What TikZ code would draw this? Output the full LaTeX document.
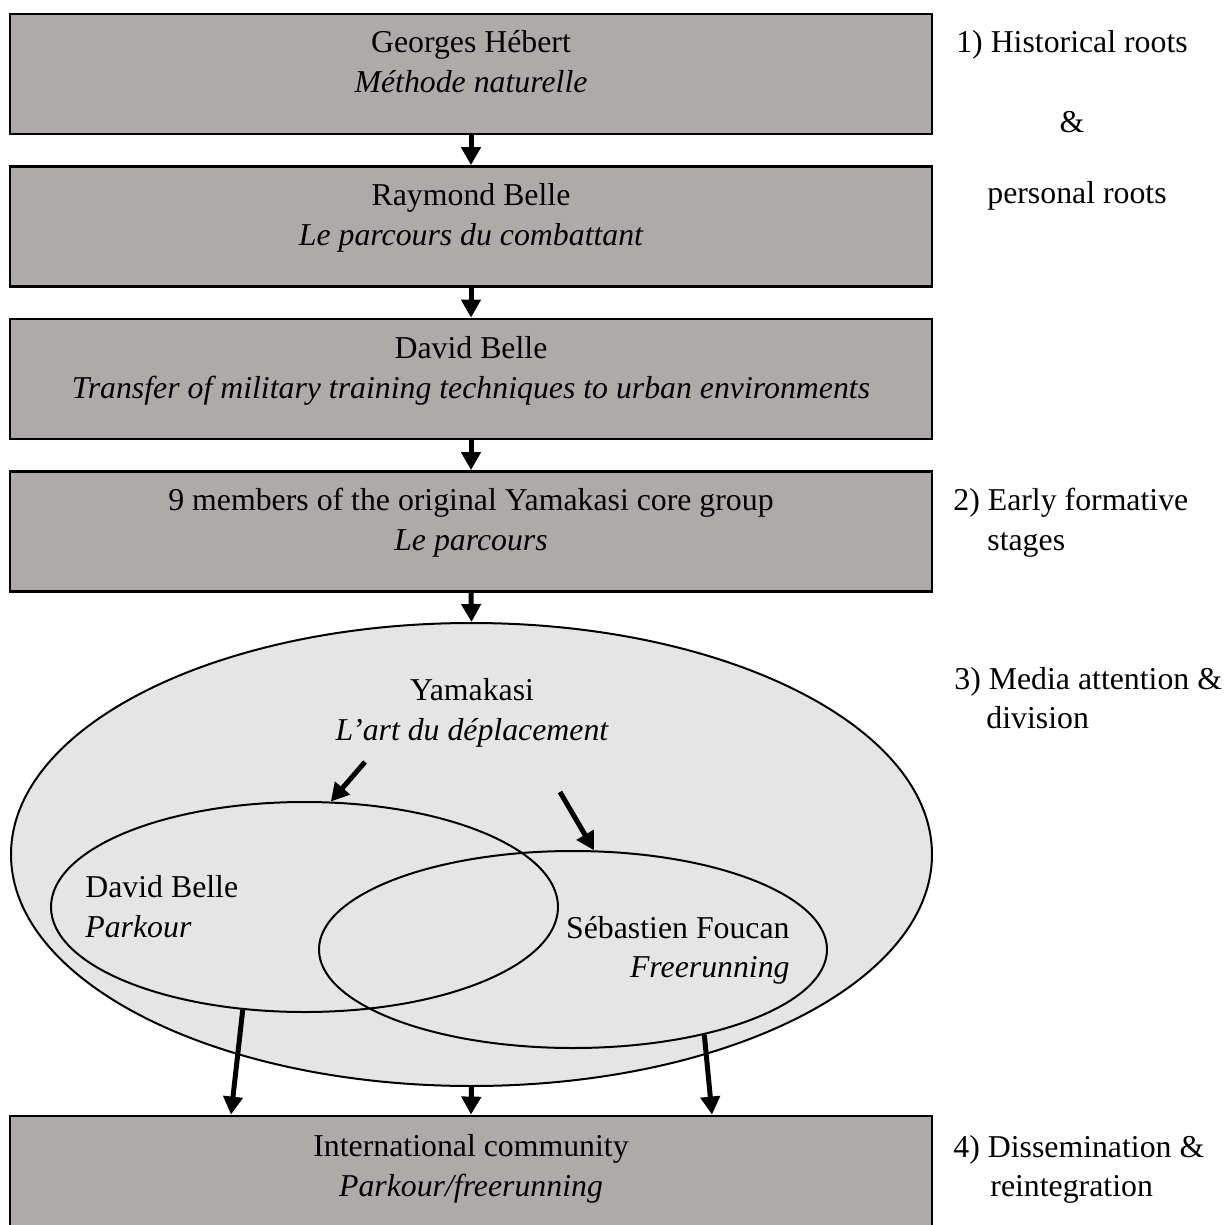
\documentclass[tikz,border=0pt]{standalone}
\usepackage{fontspec}
\setmainfont{Liberation Serif}
\usetikzlibrary{shapes.geometric,arrows.meta}
\definecolor{boxgray}{RGB}{174,170,169}
\definecolor{ellgray}{RGB}{229,229,229}
\begin{document}
\begin{tikzpicture}[x=0.5pt,y=-0.5pt,
  box/.style={draw=black, line width=1.4pt, fill=boxgray, rectangle,
    minimum width=461pt, minimum height=60pt, inner sep=0pt},
  bigell/.style={draw=black, line width=1pt, fill=ellgray, ellipse, inner sep=0pt},
  subell/.style={draw=black, line width=1pt, ellipse, inner sep=0pt},
  txt/.style={inner sep=0pt, font={\fontsize{15.9pt}{20pt}\selectfont}},
  arr/.style={line width=2.5pt, -{Triangle[width=9.5pt,length=9pt]}},
]
\useasboundingbox (0,0) rectangle (1226,1225);
\clip (0,0) rectangle (1226,1225);

% boxes
\node[box] (b1) at (471,74) {};
\node[box] (b2) at (471,226.5) {};
\node[box] (b3) at (471,379) {};
\node[box] (b4) at (471,531.5) {};
\node[box] (b5) at (471,1176) {};

% ellipses
\node[bigell, minimum width=460.5pt, minimum height=231.5pt] (big) at (471.5,854.5) {};
\node[subell, minimum width=253.5pt, minimum height=105pt] (e1) at (304.5,907) {};
\node[subell, minimum width=254pt, minimum height=98.5pt] (e2) at (573,949.5) {};

% box texts
\node[txt, anchor=base] (t1a) at (471,53) {Georges Hébert};
\node[txt, anchor=base] (t1b) at (471,93) {\itshape Méthode naturelle};
\node[txt, anchor=base] (t2a) at (471,205.5) {Raymond Belle};
\node[txt, anchor=base] (t2b) at (471,245.5) {\itshape Le parcours du combattant};
\node[txt, anchor=base] (t3a) at (471,358) {David Belle};
\node[txt, anchor=base] (t3b) at (471,398) {\itshape Transfer of military training techniques to urban environments};
\node[txt, anchor=base] (t4a) at (471,510) {9 members of the original Yamakasi core group};
\node[txt, anchor=base] (t4b) at (471,550) {\itshape Le parcours};
\node[txt, anchor=base] (t5a) at (471,1156) {International community};
\node[txt, anchor=base] (t5b) at (471,1196) {\itshape Parkour/freerunning};

% ellipse texts
\node[txt, anchor=base] (ya) at (472,700) {Yamakasi};
\node[txt, anchor=base] (yb) at (472,740) {\itshape L’art du déplacement};
\node[txt, anchor=base west] (da) at (85,897) {David Belle};
\node[txt, anchor=base west] (db) at (85,937) {\itshape Parkour};
\node[txt, anchor=base east] (sa) at (790,938) {Sébastien Foucan};
\node[txt, anchor=base east] (sb) at (790,977) {\itshape Freerunning};

% right-hand labels
\node[txt, anchor=base] (r1a) at (1072,53) {1) Historical roots};
\node[txt, anchor=base] (r1b) at (1072,133) {\&};
\node[txt, anchor=base] (r1c) at (1077,204) {personal roots};
\node[txt, anchor=base west] (r2a) at (953,510) {2) Early formative};
\node[txt, anchor=base west] (r2b) at (987,550) {stages};
\node[txt, anchor=base west] (r3a) at (954,689) {3) Media attention \&};
\node[txt, anchor=base west] (r3b) at (986,728) {division};
\node[txt, anchor=base west] (r4a) at (953,1157) {4) Dissemination \&};
\node[txt, anchor=base west] (r4b) at (990,1196) {reintegration};

% connectors
\draw[arr] (b1.south) -- (b2.north);
\draw[arr] (b2.south) -- (b3.north);
\draw[arr] (b3.south) -- (b4.north);
\draw[arr] (b4.south) -- (big.north);
\coordinate (s1) at (365,762);
\coordinate (s2) at (560,792);
\draw[arr] (s1) -- (e1.76);
\draw[arr] (s2) -- (e2.78.5);
\draw[arr] (e1.239.7) -- ([xshift=-120pt]b5.north);
\draw[arr] (big.south) -- (b5.north);
\draw[arr] (e2.-33.7) -- ([xshift=120.5pt]b5.north);
\end{tikzpicture}
\end{document}
